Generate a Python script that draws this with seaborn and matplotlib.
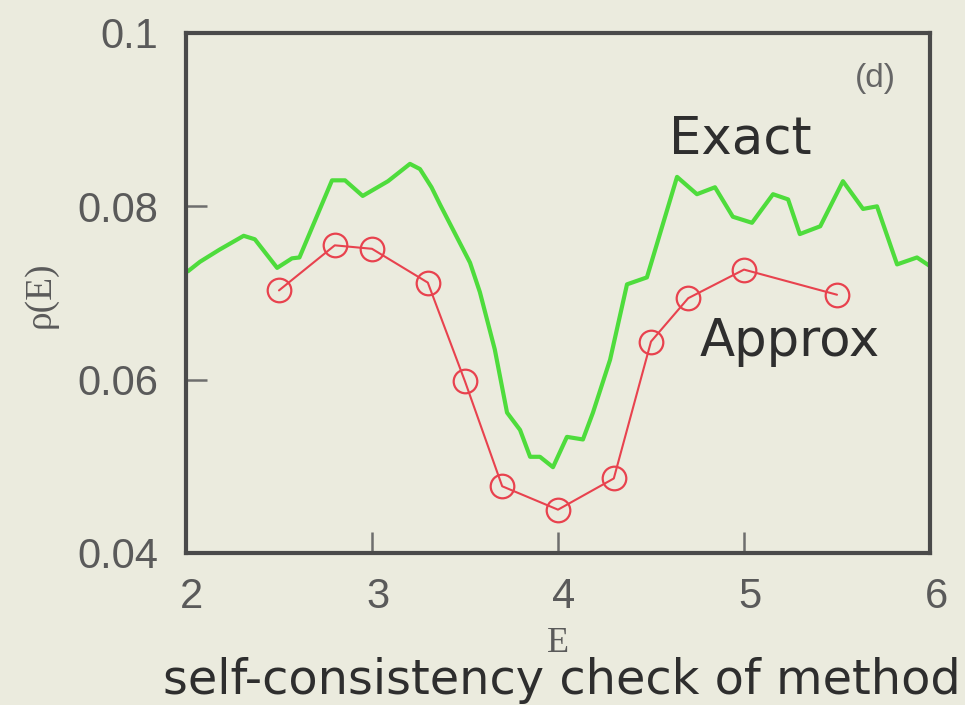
import matplotlib
matplotlib.use("Agg")
import matplotlib.pyplot as plt
import matplotlib.transforms as mtransforms
import seaborn as sns

# Density of states: exact curve and the self-consistent approximation
exact_e = [2.01, 2.075, 2.18, 2.31, 2.37, 2.49, 2.57, 2.61, 2.785, 2.855, 2.95,
           3.086, 3.204, 3.258, 3.32, 3.366, 3.527, 3.58, 3.66, 3.726, 3.796,
           3.85, 3.903, 3.973, 4.048, 4.134, 4.188, 4.28, 4.371, 4.478, 4.64,
           4.747, 4.844, 4.94, 5.043, 5.156, 5.237, 5.30, 5.41, 5.532, 5.64,
           5.715, 5.823, 5.93, 6.0]
exact_rho = [0.0725, 0.0736, 0.0750, 0.0766, 0.0762, 0.0729, 0.0740, 0.0741,
             0.0830, 0.0830, 0.0812, 0.0829, 0.0849, 0.0843, 0.0822, 0.0802,
             0.0735, 0.0701, 0.0635, 0.0562, 0.0542, 0.0511, 0.0511, 0.0499,
             0.0534, 0.0531, 0.0562, 0.0623, 0.0710, 0.0718, 0.0834, 0.0814,
             0.0822, 0.0788, 0.0781, 0.0814, 0.0808, 0.0768, 0.0777, 0.0829,
             0.0797, 0.0800, 0.0733, 0.0741, 0.0731]

approx_e = [2.5, 2.8, 3.0, 3.3, 3.5, 3.7, 4.0, 4.3, 4.5, 4.7, 5.0, 5.5]
approx_rho = [0.0703, 0.0755, 0.0751, 0.0712, 0.0598, 0.0477, 0.0450, 0.0486,
              0.0644, 0.0694, 0.0727, 0.0698]

x_ticks = [2, 3, 4, 5, 6]
x_tick_labels = ["2", "3", "4", "5", "6"]
y_ticks = [0.04, 0.06, 0.08, 0.1]
y_tick_labels = ["0.04", "0.06", "0.08", "0.1"]

bg = "#EBEBDE"
green = "#4EDC3C"
red = "#E8424E"
tick_grey = "#5A5A5A"

sns.set_theme(style="white")
plt.rcParams["font.family"] = ["DejaVu Sans"]

fig = plt.figure(figsize=(9.65, 7.05), dpi=100, facecolor=bg)
ax = fig.add_axes([186 / 965, 1 - 553 / 705, 744 / 965, 520 / 705])
ax.set_facecolor(bg)

sns.lineplot(x=exact_e, y=exact_rho, ax=ax, color=green, linewidth=3,
             estimator=None, sort=False)
sns.lineplot(x=approx_e, y=approx_rho, ax=ax, color=red, linewidth=1.5,
             marker="o", markersize=17, markerfacecolor="none",
             markeredgecolor=red, markeredgewidth=1.6,
             estimator=None, sort=False)

ax.set_xlim(2, 6)
ax.set_ylim(0.04, 0.1)
ax.set_xticks(x_ticks)
ax.set_xticklabels(x_tick_labels)
ax.set_yticks(y_ticks)
ax.set_yticklabels(y_tick_labels)
ax.set_xlabel("")
ax.set_ylabel("")

ax.tick_params(axis="both", direction="in", length=15, width=1.8,
               color="#6E6E6E", labelcolor=tick_grey, labelsize=30,
               bottom=True, left=True, top=False, right=False)
ax.tick_params(axis="y", pad=20)
ax.tick_params(axis="x", pad=17)
for lab in ax.get_xticklabels() + ax.get_yticklabels():
    lab.set_fontfamily("Liberation Sans")
shift = mtransforms.ScaledTranslation(6 / 100, 0, fig.dpi_scale_trans)
for lab in ax.get_xticklabels():
    lab.set_transform(lab.get_transform() + shift)

for side in ["left", "right", "top", "bottom"]:
    ax.spines[side].set_visible(True)
    ax.spines[side].set_color("#4A4A4A")
    ax.spines[side].set_linewidth(3)

# Axis labels
fig.text(558 / 965, 1 - 644 / 705, "E", ha="center", va="center",
         fontsize=26, color=tick_grey, family="Liberation Serif")
fig.text(40 / 965, 1 - 295 / 705, "ρ(E)", ha="center", va="center",
         rotation=90, fontsize=27, color=tick_grey, family="Liberation Serif")

# Curve annotations
fig.text(740 / 965, 1 - 140 / 705, "Exact", ha="center", va="center",
         fontsize=37, color="#2E2E2E")
fig.text(790 / 965, 1 - 342 / 705, "Approx", ha="center", va="center",
         fontsize=37, color="#2E2E2E")
fig.text(875 / 965, 1 - 78 / 705, "(d)", ha="center", va="center",
         fontsize=24, color="#666666", family="Liberation Sans")

# Caption
fig.text(562 / 965, 1 - 681 / 705, "self-consistency check of method",
         ha="center", va="center", fontsize=34.5, color="#2E2E2E")

fig.savefig("out.png", dpi=100, facecolor=bg)
